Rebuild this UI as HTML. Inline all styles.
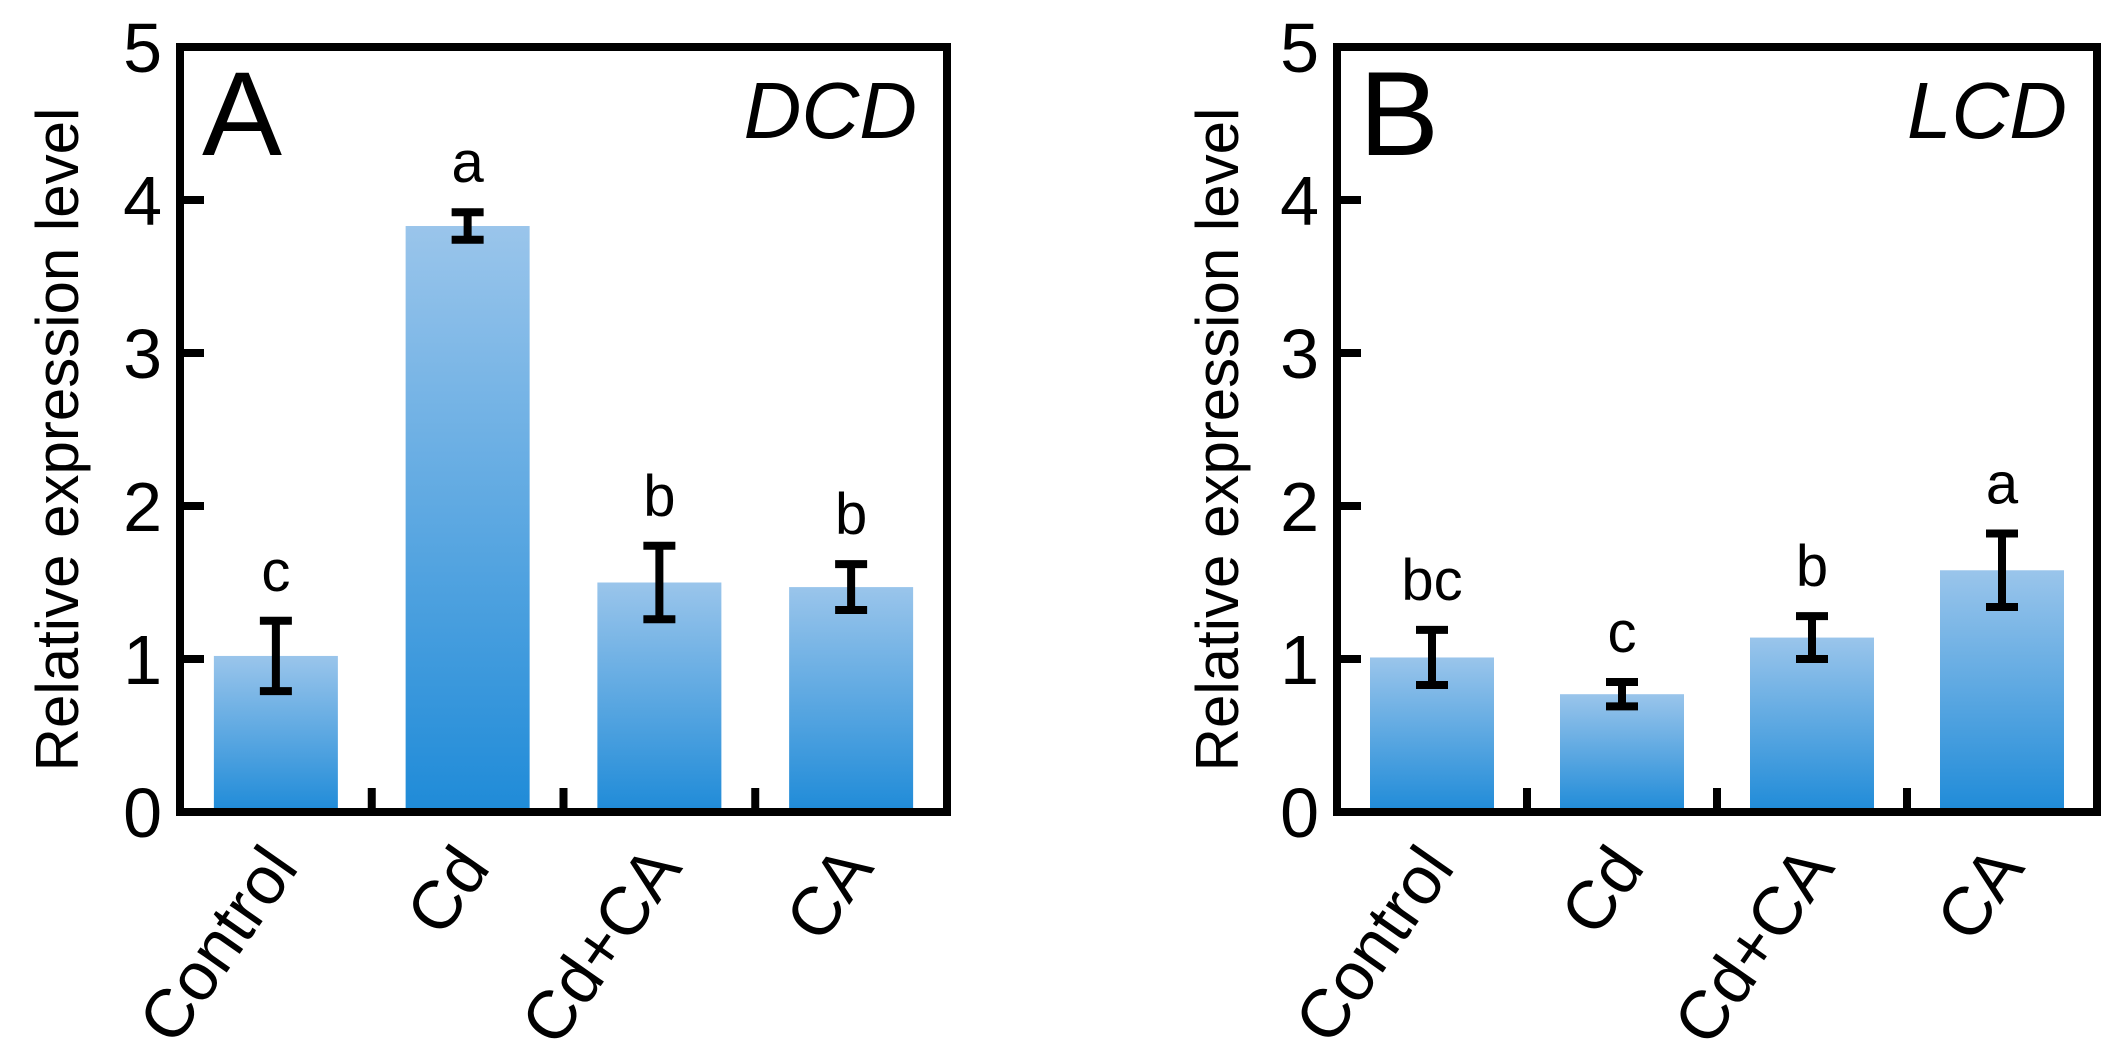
<!DOCTYPE html>
<html><head><meta charset="utf-8"><style>
html,body{margin:0;padding:0;background:#fff;}
svg{display:block;font-family:"Liberation Sans",Arial,sans-serif;}
</style></head><body>
<svg id="chart" width="2122" height="1063" viewBox="0 0 2122 1063">
<defs>
<linearGradient id="barGrad" x1="0" y1="0" x2="0" y2="1">
<stop offset="0" stop-color="#9ac5eb"/><stop offset="1" stop-color="#1f8bd8"/>
</linearGradient>
</defs>
</svg>
<script>
const categories = ["Control", "Cd", "Cd+CA", "CA"];
const valuesA = [1.02, 3.83, 1.50, 1.47];
const errA = [0.23, 0.09, 0.24, 0.15];
const lettersA = ["c", "a", "b", "b"];
const valuesB = [1.01, 0.77, 1.14, 1.58];
const errB = [0.18, 0.08, 0.14, 0.24];
const lettersB = ["bc", "c", "b", "a"];
const yTicks = [0, 1, 2, 3, 4, 5];

const NS = "http://www.w3.org/2000/svg";
const svg = document.getElementById("chart");
function mk(tag, attrs, parent, txt) {
  const e = document.createElementNS(NS, tag);
  for (const k in attrs) e.setAttribute(k, attrs[k]);
  if (txt !== undefined) e.textContent = txt;
  (parent || svg).appendChild(e);
  return e;
}

function panel(p) {
  const g = mk("g", {});
  
  
  const L = p.left, R = p.right, T = 47, B = 812;
  const yScale = v => B - (v / 5) * (B - T);
  const step = (R - L) / categories.length;
  const xCenter = i => L + step * (i + 0.5);
  const bw = 124;

  p.values.forEach((v, i) => {
    const r = mk("rect", {x: xCenter(i) - bw / 2, y: yScale(v), width: bw, height: B - yScale(v), fill: "url(#barGrad)"}, g);
    
    
    const cx = xCenter(i), hi = yScale(v + p.err[i]), lo = yScale(v - p.err[i]);
    const eb = mk("g", {stroke: "#000", "stroke-width": 8}, g);
    
    
    mk("line", {x1: cx, x2: cx, y1: hi, y2: lo}, eb);
    mk("line", {x1: cx - 16, x2: cx + 16, y1: hi, y2: hi}, eb);
    mk("line", {x1: cx - 16, x2: cx + 16, y1: lo, y2: lo}, eb);
    const lt = mk("text", {x: cx, y: hi - 30, "text-anchor": "middle", "font-size": 58}, g, p.letters[i]);
    
    
    const ax = cx + 24, ay = 868;
    const xl = mk("text", {x: ax, y: ay, "text-anchor": "end", "font-size": 68, transform: `rotate(-55 ${ax} ${ay})`}, g, categories[i]);
    
    
  });

  const fr = mk("rect", {x: L, y: T, width: R - L, height: B - T, fill: "none", stroke: "#000", "stroke-width": 8}, g);
  
  
  for (let i = 1; i < categories.length; i++) {
    const x = L + step * i;
    mk("line", {x1: x, x2: x, y1: B, y2: B - 24, stroke: "#000", "stroke-width": 8}, g);
  }
  yTicks.forEach(t => {
    const y = yScale(t);
    mk("line", {x1: L, x2: L + 24, y1: y, y2: y, stroke: "#000", "stroke-width": 8}, g);
    const tl = mk("text", {x: L - 18, y: y + 25, "text-anchor": "end", "font-size": 70}, g, String(t));
    
    
  });
  const yt = mk("text", {x: p.titleX, y: (T + B) / 2 + 10, "text-anchor": "middle", "font-size": 60, transform: `rotate(-90 ${p.titleX} ${(T + B) / 2 + 10})`}, g, "Relative expression level");
  
  
  const pl = mk("text", {x: L + 22, y: 155, "font-size": 120}, g, p.label);
  
  
  const gn = mk("text", {x: R - 30, y: 138, "text-anchor": "end", "font-size": 80, "font-style": "italic"}, g, p.gene);
  
  
}

panel({name: "panel-a-dcd", left: 180, right: 947, values: valuesA, err: errA, letters: lettersA, label: "A", gene: "DCD", titleX: 78});
panel({name: "panel-b-lcd", left: 1337, right: 2097, values: valuesB, err: errB, letters: lettersB, label: "B", gene: "LCD", titleX: 1238});
</script>
</body></html>
